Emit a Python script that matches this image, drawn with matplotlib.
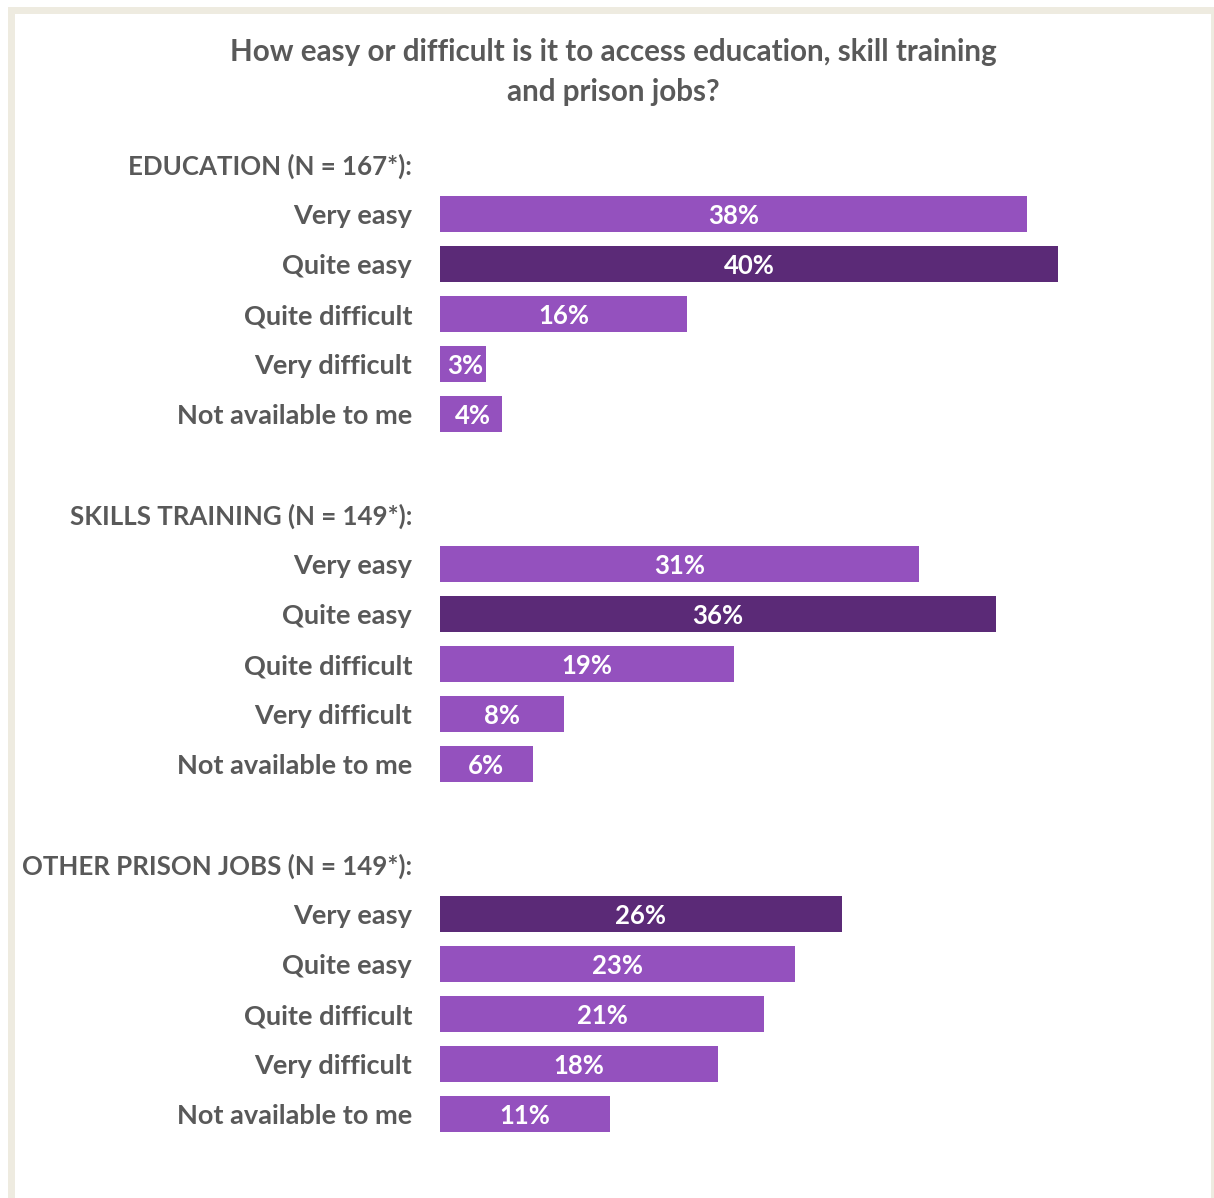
import matplotlib
matplotlib.use("Agg")
import matplotlib.pyplot as plt
from matplotlib.patches import Rectangle

plt.rcParams['font.family'] = ['Lato', 'DejaVu Sans']

title = "How easy or difficult is it to access education, skill training\nand prison jobs?"
answers = ["Very easy", "Quite easy", "Quite difficult", "Very difficult", "Not available to me"]
groups = ["EDUCATION (N = 167*):", "SKILLS TRAINING (N = 149*):", "OTHER PRISON JOBS (N = 149*):"]
education = [38, 40, 16, 3, 4]
skills = [31, 36, 19, 8, 6]
prison_jobs = [26, 23, 21, 18, 11]

LIGHT = "#9451BE"
DARK = "#5B2A77"
TEXT = "#595959"
FRAME = "#EEEBE0"

W, H = 1214, 1198
fig = plt.figure(figsize=(W / 100, H / 100), dpi=100)
fig.patch.set_facecolor("white")

# beige frame around the panel, kept underneath the axes
frame = Rectangle((10.5 / W, -0.02), (1213.5 - 10.5) / W, 1.02 - 9.5 / H,
                  transform=fig.transFigure, facecolor="white",
                  edgecolor=FRAME, linewidth=7 * 72 / 100, zorder=-5)
fig.patches.append(frame)

fig.text(613 / W, 1 - 72 / H, title, ha="center", va="center", fontsize=21.3,
         fontweight="bold", color=TEXT, linespacing=1.55)

# axes spanning rows -0.5 .. 19.5 (50 px per row)
ax_left, ax_right = 440, 1213
ax_top, ax_bottom = 139, 1139
ax = fig.add_axes([ax_left / W, 1 - ax_bottom / H, (ax_right - ax_left) / W, (ax_bottom - ax_top) / H])
ax.set_xlim(0, (ax_right - ax_left) / 15.45)
ax.set_ylim(19.5, -0.5)
ax.axis("off")
ax.patch.set_alpha(0)

label_x = -28 / 15.45
dy = 0.05  # small downward nudge for text baselines
for g, (name, vals) in enumerate(zip(groups, [education, skills, prison_jobs])):
    base = g * 7
    ax.text(label_x, base + dy, name, ha="right", va="center", fontsize=18.6,
            fontweight="bold", color=TEXT)
    top = max(vals)
    ys = [base + 1 + i for i in range(len(vals))]
    colors = [DARK if v == top else LIGHT for v in vals]
    ax.barh(ys, vals, height=0.72, color=colors, edgecolor="none")
    for y, v, lab in zip(ys, vals, answers):
        ax.text(label_x, y + dy, lab, ha="right", va="center", fontsize=19.5,
                fontweight="bold", color=TEXT)
        ax.text(v / 2 + (0.15 if v < 5 else 0), y + dy, f"{v}%", ha="center", va="center",
                fontsize=18.5, fontweight="bold", color="white")

fig.savefig("out.png", dpi=100)
